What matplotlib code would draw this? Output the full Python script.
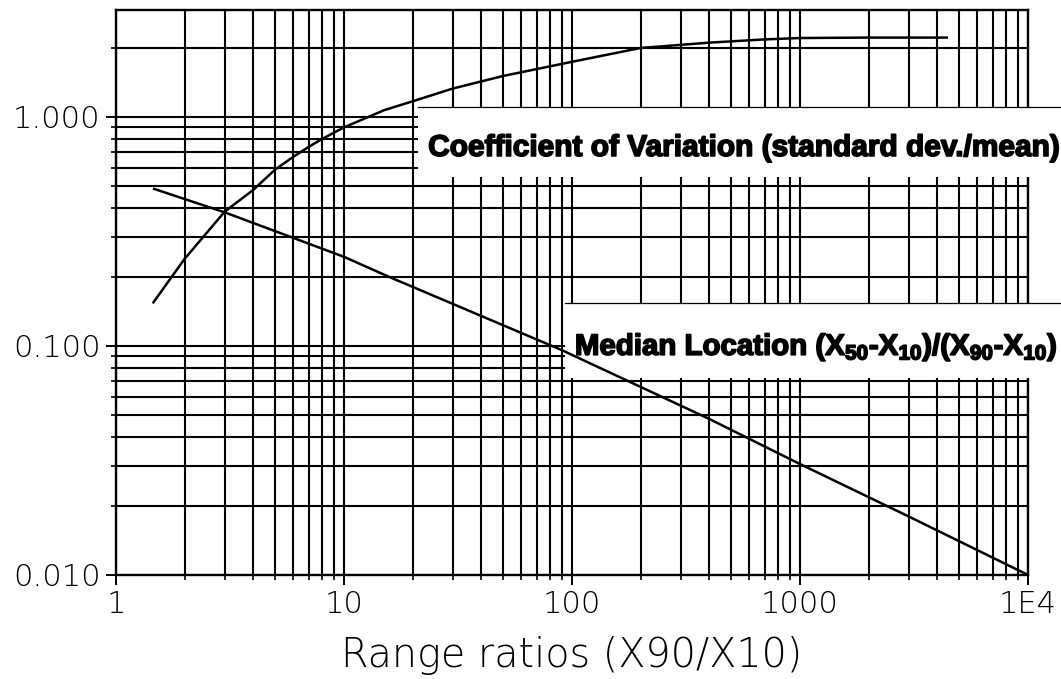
import matplotlib
matplotlib.use("Agg")
import matplotlib.pyplot as plt
import matplotlib.patheffects as pe
from matplotlib.ticker import FixedLocator, FixedFormatter, LogLocator, NullFormatter
from matplotlib.patches import Rectangle

# Coefficient of variation (standard dev./mean) against range ratio X90/X10
cv_ratio = [1.46, 2, 3, 4, 5, 6, 7, 8, 10, 15, 20, 30, 50, 100, 200, 400, 700, 1000, 2000, 4400]
cv_value = [0.155, 0.24, 0.386, 0.48, 0.59, 0.67, 0.74, 0.80, 0.90, 1.07, 1.17, 1.33,
            1.51, 1.74, 2.0, 2.11, 2.18, 2.21, 2.22, 2.22]

# Median location (X50-X10)/(X90-X10) against range ratio
med_ratio = [1.47, 3, 10, 16, 90, 400, 1000, 3000, 10000]
med_value = [0.485, 0.383, 0.245, 0.199, 0.096, 0.048, 0.0305, 0.018, 0.0100]

x_ticks = [1, 10, 100, 1000, 10000]
x_tick_labels = ["1", "10", "100", "1000", "1E4"]
y_ticks = [0.01, 0.1, 1.0]
y_tick_labels = ["0.010", "0.100", "1.000"]

cv_label = "Coefficient of Variation (standard dev./mean)"
med_label = r"Median Location (X$_{50}$-X$_{10}$)/(X$_{90}$-X$_{10}$)"
x_title = "Range ratios (X90/X10)"

plt.rcParams["font.family"] = ["DejaVu Sans"]
plt.rcParams["mathtext.fontset"] = "custom"
plt.rcParams["mathtext.rm"] = "Liberation Sans:bold"
plt.rcParams["mathtext.it"] = "Liberation Sans:bold"
plt.rcParams["mathtext.bf"] = "Liberation Sans:bold"

fig = plt.figure(figsize=(10.61, 6.79), dpi=100)
ax = fig.add_axes([0.1093, 0.1532, 0.8596, 0.8321])
ax.set_xscale("log")
ax.set_yscale("log")
ax.set_xlim(1, 1e4)
ax.set_ylim(0.01, 2.93)

ax.xaxis.set_major_locator(FixedLocator(x_ticks))
ax.xaxis.set_major_formatter(FixedFormatter(x_tick_labels))
ax.xaxis.set_minor_locator(LogLocator(base=10, subs=range(2, 10)))
ax.xaxis.set_minor_formatter(NullFormatter())
ax.yaxis.set_major_locator(FixedLocator(y_ticks))
ax.yaxis.set_major_formatter(FixedFormatter(y_tick_labels))
ax.yaxis.set_minor_locator(LogLocator(base=10, subs=range(2, 10)))
ax.yaxis.set_minor_formatter(NullFormatter())

ax.grid(which="both", color="black", linewidth=1.5)
ax.set_axisbelow(True)
for sp in ax.spines.values():
    sp.set_linewidth(1.7)
    sp.set_color("black")

ax.tick_params(which="major", length=7, width=1.4, direction="out",
               labelsize=22, pad=4, colors="black")
ax.tick_params(which="minor", length=3.5, width=1.2, direction="out")
for lab in ax.get_xticklabels() + ax.get_yticklabels():
    lab.set_fontweight("light")

ax.set_xlabel(x_title, fontsize=28.5, fontweight="light", color="black", labelpad=12)

# white label panels that blank out the grid behind the captions
panel_right = 13960
cv_box = (21.1, 0.547, 1.106)
med_box = (93.0, 0.0725, 0.154)
for x0, y0, y1 in (cv_box, med_box):
    ax.add_patch(Rectangle((x0, y0), panel_right - x0, y1 - y0, facecolor="white",
                           edgecolor="none", zorder=3, clip_on=False))
    ax.plot([x0, panel_right], [y1, y1], color="black", linewidth=0.9,
            zorder=3.5, clip_on=False)

ax.plot(cv_ratio, cv_value, color="black", linewidth=1.8, zorder=4)
ax.plot(med_ratio, med_value, color="black", linewidth=1.8, zorder=4)

heavy = [pe.withStroke(linewidth=1.2, foreground="black")]
ax.text(23.4, 0.732, cv_label, fontsize=21.5, fontweight="bold",
        family="Liberation Sans", ha="left", va="center", zorder=5, clip_on=False,
        path_effects=heavy)
ax.text(103, 0.099, med_label, fontsize=21.2, fontweight="bold",
        family="Liberation Sans", ha="left", va="center", zorder=5, clip_on=False,
        path_effects=heavy)

fig.savefig("out.png", dpi=100)
